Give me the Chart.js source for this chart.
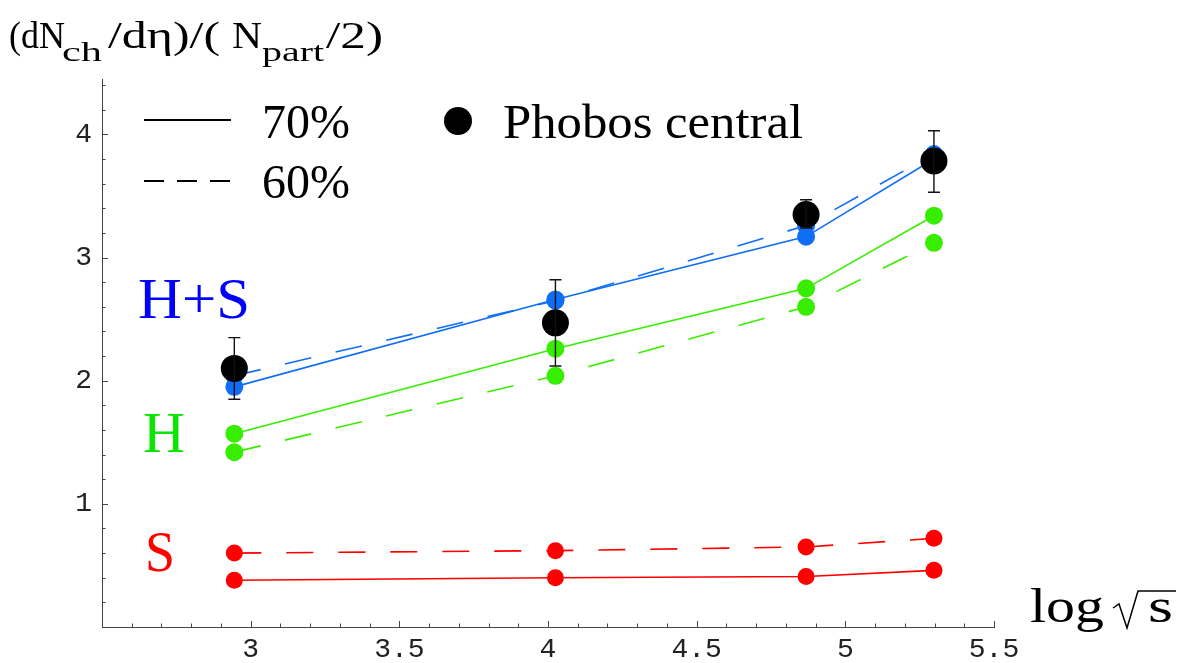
<!DOCTYPE html>
<html>
<head>
<meta charset="utf-8">
<script src="https://cdn.jsdelivr.net/npm/chart.js@4/dist/chart.umd.min.js"></script>
<style>
  html, body { margin: 0; padding: 0; background: #fff; }
  #wrap { width: 1182px; height: 663px; }
</style>
</head>
<body>
<div id="wrap"><canvas id="container" width="1182" height="663"></canvas></div>
<script>
// log sqrt(s) of the four energies
const energies = [2.945, 4.025, 4.868, 5.298];

// model curves, 70% (solid) and 60% (dashed)
const hsSolid = [1.95, 2.66, 3.17, 3.80];
const hsDashed = [2.04, 2.65, 3.26, 3.84];
const hSolid = [1.57, 2.26, 2.75, 3.34];
const hDashed = [1.42, 2.04, 2.60, 3.12];
const sSolid = [0.38, 0.40, 0.41, 0.46];
const sDashed = [0.60, 0.62, 0.65, 0.72];

// Phobos central data with error range
const phobos = [2.10, 2.47, 3.35, 3.785];
const phobosLow = [1.85, 2.12, 3.24, 3.53];
const phobosHigh = [2.35, 2.82, 3.47, 4.03];

const xTicks = [3, 3.5, 4, 4.5, 5, 5.5];
const yTicks = [1, 2, 3, 4];

const BLUE = "rgb(15,110,245)";
const GREEN = "rgb(55,238,0)";
const RED = "rgb(255,0,0)";
const DASH = [27, 25];

const pts = (ys) => ys.map((y, i) => ({ x: energies[i], y: y }));

function curve(ys, color, dashed, order) {
  return {
    data: pts(ys),
    showLine: true,
    borderColor: color,
    backgroundColor: color,
    pointBackgroundColor: color,
    pointBorderWidth: 0,
    pointRadius: 9,
    borderWidth: 1.6,
    borderDash: dashed ? DASH : [],
    order: order,
  };
}

const datasets = [
  {
    data: pts(phobos),
    showLine: false,
    backgroundColor: "#000",
    pointBackgroundColor: "#000",
    pointBorderWidth: 0,
    pointRadius: 13.5,
    order: 0,
  },
  curve(hsSolid, BLUE, false, 1),
  curve(hsDashed, BLUE, true, 2),
  curve(hSolid, GREEN, false, 3),
  curve(hDashed, GREEN, true, 4),
  curve(sSolid, RED, false, 5),
  curve(sDashed, RED, true, 6),
];
datasets[5].pointRadius = 8.5;
datasets[6].pointRadius = 8.5;

// text squeezed/stretched to a given width (the original font is wide)
function fitText(ctx, text, x, y, font, width) {
  ctx.font = font;
  const w = ctx.measureText(text).width;
  ctx.save();
  ctx.translate(x, y);
  ctx.scale(width / w, 1);
  ctx.fillText(text, 0, 0);
  ctx.restore();
}

// inward major/minor ticks like the original frame
const innerTicks = {
  id: "innerTicks",
  beforeDatasetsDraw(chart) {
    const ctx = chart.ctx;
    const xs = chart.scales.x, ys = chart.scales.y;
    const area = chart.chartArea;
    ctx.save();
    ctx.strokeStyle = "#444";
    ctx.lineWidth = 1;
    ctx.beginPath();
    for (let k = 26; k <= 55; k++) {
      const px = Math.round(xs.getPixelForValue(k / 10)) + 0.5;
      const len = k % 5 === 0 ? 6 : 3.5;
      ctx.moveTo(px, area.bottom);
      ctx.lineTo(px, area.bottom - len);
    }
    for (let k = 1; k <= 22; k++) {
      const py = Math.round(ys.getPixelForValue(k / 5)) + 0.5;
      const len = k % 5 === 0 ? 6 : 3.5;
      ctx.moveTo(area.left, py);
      ctx.lineTo(area.left + len, py);
    }
    ctx.stroke();
    ctx.restore();
  },
};

const errorBars = {
  id: "errorBars",
  afterDatasetsDraw(chart) {
    const ctx = chart.ctx;
    const xs = chart.scales.x, ys = chart.scales.y;
    ctx.save();
    ctx.strokeStyle = "#111";
    ctx.lineWidth = 1.4;
    ctx.beginPath();
    energies.forEach((e, i) => {
      const px = xs.getPixelForValue(e);
      const lo = ys.getPixelForValue(phobosLow[i]);
      const hi = ys.getPixelForValue(phobosHigh[i]);
      ctx.moveTo(px, lo); ctx.lineTo(px, hi);
      ctx.moveTo(px - 6, lo); ctx.lineTo(px + 6, lo);
      ctx.moveTo(px - 6, hi); ctx.lineTo(px + 6, hi);
    });
    ctx.stroke();
    ctx.restore();
  },
};

// axis titles, legend and curve labels
const annotations = {
  id: "annotations",
  afterDraw(chart) {
    const ctx = chart.ctx;
    ctx.save();
    ctx.fillStyle = "#000";
    ctx.textBaseline = "alphabetic";
    ctx.textAlign = "left";

    const big = "38px 'Liberation Serif'";
    const sub = "28px 'Liberation Serif'";
    fitText(ctx, "(dN", 9, 48, big, 56);
    fitText(ctx, "ch", 62, 61, sub, 40);
    fitText(ctx, "/dη)/(", 108, 48, big, 112);
    fitText(ctx, "N", 232, 48, big, 30);
    fitText(ctx, "part", 262, 61, sub, 62);
    fitText(ctx, "/2)", 326, 48, big, 57);

    // log sqrt(s)
    fitText(ctx, "log", 1030, 622, "48px 'Liberation Serif'", 74);
    fitText(ctx, "s", 1148, 622, "48px 'Liberation Serif'", 25);
    ctx.strokeStyle = "#000";
    ctx.lineWidth = 1.5;
    ctx.beginPath();
    ctx.moveTo(1113, 608);
    ctx.lineTo(1119, 604);
    ctx.lineTo(1127, 628);
    ctx.lineTo(1138, 591);
    ctx.lineTo(1176, 591);
    ctx.stroke();

    // legend
    ctx.lineWidth = 2.2;
    ctx.beginPath();
    ctx.moveTo(144, 120); ctx.lineTo(231, 120);
    ctx.stroke();
    ctx.setLineDash([20, 13]);
    ctx.beginPath();
    ctx.moveTo(144, 181); ctx.lineTo(231, 181);
    ctx.stroke();
    ctx.setLineDash([]);
    const lf = "48px 'Liberation Serif'";
    fitText(ctx, "70%", 262, 138, lf, 88);
    fitText(ctx, "60%", 262, 198, lf, 88);
    ctx.beginPath();
    ctx.arc(458, 121, 14, 0, Math.PI * 2);
    ctx.fill();
    fitText(ctx, "Phobos central", 503, 138, lf, 300);

    // curve labels
    const cf = "56px 'Liberation Serif'";
    ctx.fillStyle = "rgb(0,0,255)";
    fitText(ctx, "H+S", 138, 318, cf, 112);
    ctx.fillStyle = "rgb(10,230,0)";
    fitText(ctx, "H", 143, 452, cf, 42);
    ctx.fillStyle = "rgb(255,0,0)";
    fitText(ctx, "S", 145, 571, cf, 30);
    ctx.restore();
  },
};

const config = {
  type: "scatter",
  data: { datasets: datasets },
  options: {
    responsive: false,
    animation: { duration: 0 },
    layout: { padding: { top: 79, right: 188, bottom: 0, left: 0 } },
    plugins: {
      legend: { display: false },
      tooltip: { enabled: false },
    },
    scales: {
      x: {
        type: "linear",
        min: 2.5,
        max: 5.5,
        afterFit: (scale) => { scale.height = 36; },
        afterBuildTicks: (scale) => { scale.ticks = xTicks.map((v) => ({ value: v })); },
        grid: { display: false, drawTicks: false },
        border: { display: true, color: "#444", width: 1 },
        ticks: {
          padding: 6,
          color: "#222",
          font: { family: "'Liberation Mono'", size: 28 },
          maxRotation: 0,
          autoSkip: false,
          callback: (v) => String(v),
        },
      },
      y: {
        type: "linear",
        min: 0,
        max: 4.45,
        afterFit: (scale) => { scale.width = 102; },
        afterBuildTicks: (scale) => { scale.ticks = yTicks.map((v) => ({ value: v })); },
        grid: { display: false, drawTicks: false },
        border: { display: true, color: "#444", width: 1 },
        ticks: {
          padding: 10,
          color: "#222",
          font: { family: "'Liberation Mono'", size: 28 },
          autoSkip: false,
          callback: (v) => String(v),
        },
      },
    },
  },
  plugins: [innerTicks, errorBars, annotations],
};

const chart = new Chart(document.getElementById("container"), config);
</script>
</body>
</html>
